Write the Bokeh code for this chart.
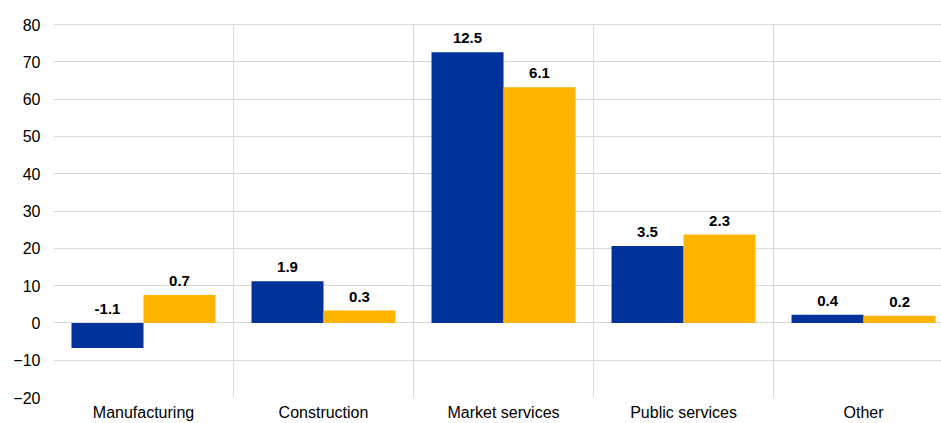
from bokeh.plotting import figure
from bokeh.models import ColumnDataSource, Range1d, FixedTicker
from bokeh.embed import file_html
from bokeh.resources import INLINE
from bokeh.core.properties import value

categories = ["Manufacturing", "Construction", "Market services", "Public services", "Other"]
series_blue = [-6.7, 11.2, 72.6, 20.6, 2.2]
series_yellow = [7.5, 3.3, 63.2, 23.7, 1.9]
labels_blue = ["-1.1", "1.9", "12.5", "3.5", "0.4"]
labels_yellow = ["0.7", "0.3", "6.1", "2.3", "0.2"]
y_ticks = [-20, -10, 0, 10, 20, 30, 40, 50, 60, 70, 80]

BLUE = "#003299"
YELLOW = "#FFB400"
GRID = "#d9d9d9"
FONT = "Liberation Sans"

n = len(categories)
centers = [i + 0.5 for i in range(n)]

src_b = ColumnDataSource(dict(
    x=[c - 0.2 for c in centers], top=series_blue,
    ly=[max(v, 0) for v in series_blue], lab=labels_blue))
src_y = ColumnDataSource(dict(
    x=[c + 0.2 for c in centers], top=series_yellow,
    ly=[max(v, 0) for v in series_yellow], lab=labels_yellow))

p = figure(width=941, height=423, output_backend="svg", toolbar_location=None,
           x_range=Range1d(0, 4.933), y_range=Range1d(-20, 80.3),
           min_border_left=53, min_border_right=0, min_border_top=23, min_border_bottom=26)
p.outline_line_color = None
p.background_fill_color = "white"

p.vbar(x="x", top="top", bottom=0, width=0.4, source=src_b, fill_color=BLUE, line_color=None)
p.vbar(x="x", top="top", bottom=0, width=0.4, source=src_y, fill_color=YELLOW, line_color=None)

for s in (src_b, src_y):
    p.text(x="x", y="ly", text="lab", source=s, text_align="center", text_baseline="bottom",
           y_offset=-9, text_font=value(FONT), text_font_size="15px", text_font_style="bold",
           text_color="#000000")

p.yaxis.ticker = FixedTicker(ticks=y_ticks)
p.xaxis.ticker = FixedTicker(ticks=centers)
p.xaxis.major_label_overrides = {c: name for c, name in zip(centers, categories)}

p.xgrid.ticker = FixedTicker(ticks=list(range(n + 1)))
p.xgrid.grid_line_color = GRID
p.ygrid.grid_line_color = GRID
p.xgrid.grid_line_width = 1
p.ygrid.grid_line_width = 1

for ax in (p.xaxis, p.yaxis):
    ax.axis_line_color = None
    ax.major_tick_line_color = None
    ax.minor_tick_line_color = None
    ax.major_tick_out = 0
    ax.major_tick_in = 0
    ax.minor_tick_out = 0
    ax.major_label_text_font = FONT
    ax.major_label_text_font_size = "16px"
    ax.major_label_text_color = "#000000"

p.yaxis.major_label_standoff = 13
p.xaxis.major_label_standoff = 6

open("out.html", "w").write(file_html(p, INLINE))
